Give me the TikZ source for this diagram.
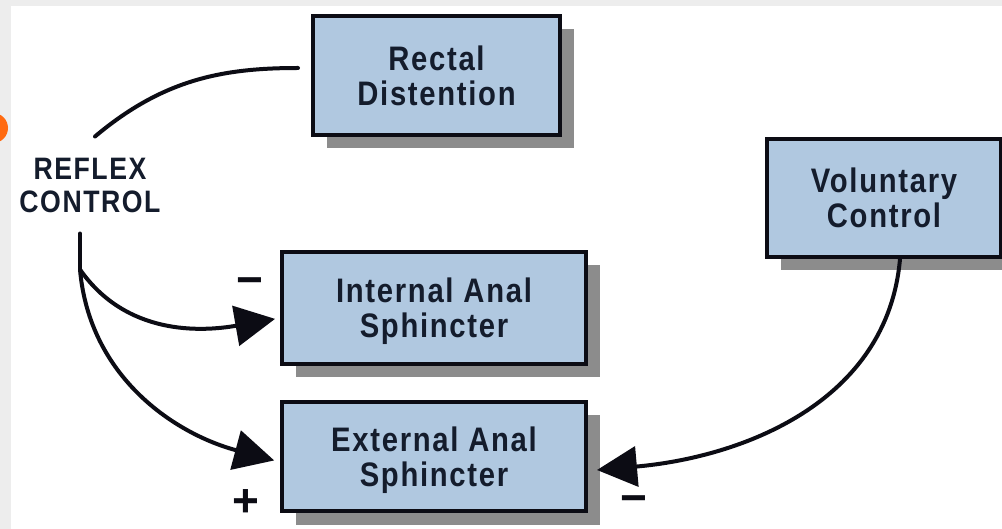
\documentclass[tikz,border=0pt]{standalone}
\usepackage{fontspec}
\setmainfont{Liberation Sans}
\newfontfamily\boxfont{Liberation Sans}[FakeStretch=0.86,LetterSpace=5]
\usetikzlibrary{arrows.meta,positioning,shadows}
\definecolor{boxblue}{HTML}{B0C8E0}
\definecolor{boxline}{HTML}{0C0C14}
\definecolor{shade}{HTML}{8C8C8C}
\definecolor{inkblue}{HTML}{141C2C}
\definecolor{framegray}{HTML}{EDEDED}
\definecolor{dotorange}{HTML}{FF6A10}
\tikzset{box/.style={draw=boxline,line width=4pt,fill=boxblue,align=center,inner sep=0pt,
    text=inkblue,text depth=0pt,font=\boxfont\fontsize{34}{35}\selectfont\bfseries,
    drop shadow={shadow xshift=13.5pt,shadow yshift=-13.5pt,fill=shade,opacity=1}},
  link/.style={line width=4pt,draw=boxline,line cap=round},
  flow/.style={link,-{Triangle[length=40pt,width=40pt]}},
  sign/.style={font=\fontsize{46}{46}\selectfont\bfseries,inner sep=0pt,text=boxline}}

\begin{document}
\begin{tikzpicture}[x=1pt,y=1pt]
\useasboundingbox (0,0) rectangle (1002,-529);
\fill[framegray] (0,0) rectangle (1002,-529);
\fill[white] (11,-6) rectangle (1002,-529);
\fill[dotorange] (-7,-128) circle (15);

\node[box,minimum width=247pt,minimum height=119pt] (rectal) at (436.5,-75.5)
 {Rectal\\Distention};
\node[box,minimum width=234pt,minimum height=118pt] (voluntary) at (884,-198)
 {Voluntary\\Control};
\node[box,minimum width=304pt,minimum height=112pt] (internal) at (434,-308)
 {Internal Anal\\Sphincter};
\node[box,minimum width=304pt,minimum height=109pt,below=34pt of internal] (external)
 {External Anal\\Sphincter};
\node[font=\boxfont\fontsize{31}{33}\selectfont\bfseries,align=center,text=inkblue,
 inner xsep=0pt,inner ysep=21pt] (reflex) at (90,-185) {REFLEX\\CONTROL};

\node[sign] (inhibit) at (250,-287) {−};
\node[sign] (excite) at (246,-503) {+};
\node[sign] (override) at (634,-505) {−};

\coordinate (fork) at ([xshift=-10pt,yshift=-36pt]reflex.south);
\draw[link,shorten <=13pt] ([yshift=7.5pt]rectal.west) to[out=180,in=40] ([xshift=5pt]reflex.north);
\draw[link] ([xshift=-10pt]reflex.south) -- (fork);
\draw[flow,shorten >=5pt] (fork) to[out=-55,in=190] ([yshift=-10pt]internal.west);
\draw[flow,shorten >=6pt] (fork) to[out=-85,in=165] ([yshift=-5.5pt]external.west);
\draw[flow] ([xshift=16pt]voluntary.south) to[out=-95,in=5] ([xshift=9pt,yshift=-13.5pt]external.east);
\end{tikzpicture}
\end{document}
